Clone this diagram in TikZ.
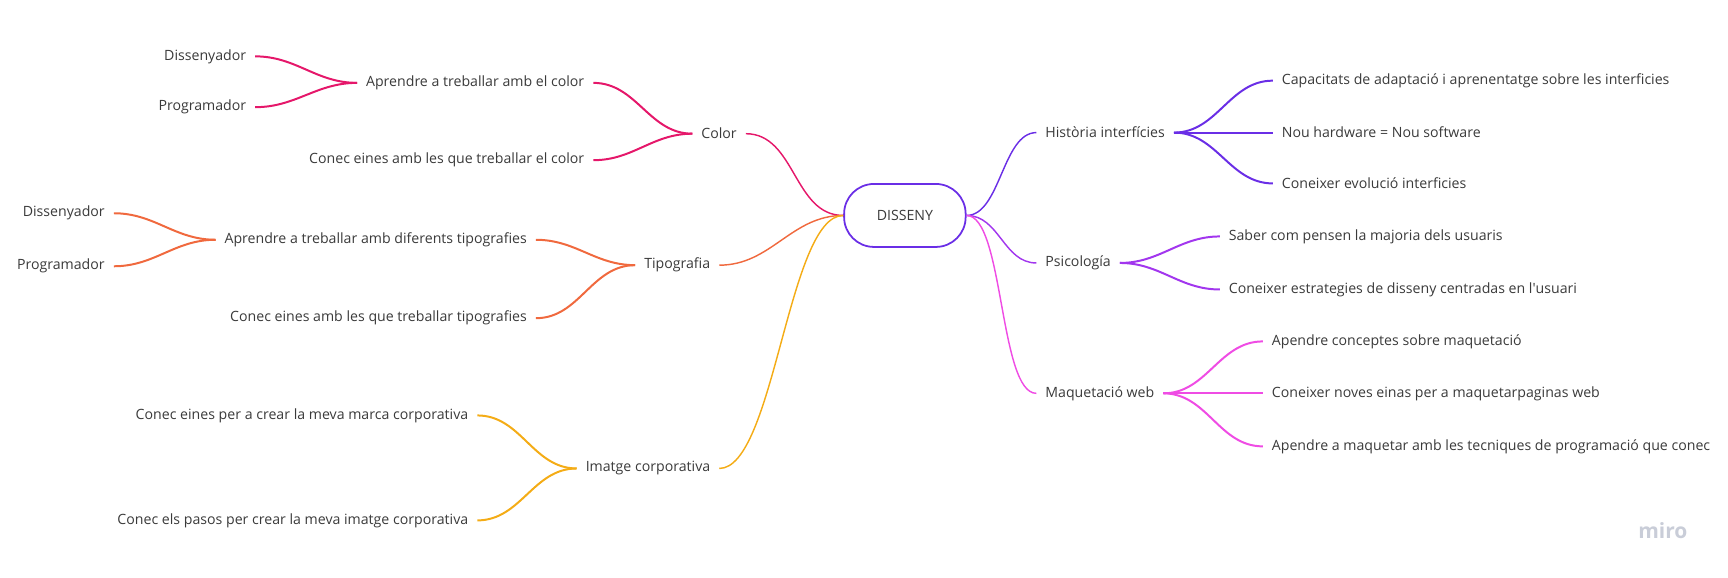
\documentclass[tikz,border=0pt]{standalone}
\usepackage{fontspec}
\setmainfont{Open Sans}
\definecolor{txtgray}{HTML}{3A3A3A}
\definecolor{colred}{HTML}{E5176A}
\definecolor{colorange}{HTML}{F0693E}
\definecolor{colyellow}{HTML}{F4AC16}
\definecolor{colpurple}{HTML}{6A2EE6}
\definecolor{colviolet}{HTML}{A236EE}
\definecolor{colpink}{HTML}{EF4CE4}
\definecolor{mirogray}{HTML}{C9CDD8}
\tikzset{
  topic/.style={text=txtgray, inner xsep=8pt, inner ysep=3pt, font=\fontsize{12.8}{15}\selectfont},
  root/.style={draw=colpurple, line width=1.6pt, rounded corners=27pt, minimum width=110pt,
    minimum height=57pt, text=txtgray, font=\fontsize{12.8}{15}\selectfont},
  lmain/.style={line width=1.3pt, out=180, in=0},
  rmain/.style={line width=1.3pt, out=0, in=180},
  lsub/.style={line width=1.8pt, out=180, in=0},
  rsub/.style={line width=1.8pt, out=0, in=180}
}
\begin{document}
\begin{tikzpicture}[x=1pt, y=-1pt]
    \useasboundingbox (0,0) rectangle (1564,523);

    % Root
    \node[root] (disseny) at (819,195) {DISSENY};

    % Color
    \node[topic, anchor=east] (color) at (675,121) {Color};
    \node[topic, anchor=east] (aprcolor) at (537,75) {Aprendre a treballar amb el color};
    \node[topic, anchor=east] (coneccolor) at (537,145) {Conec eines amb les que treballar el color};
    \node[topic, anchor=east] (dis1) at (231,51) {Dissenyador};
    \node[topic, anchor=east] (prog1) at (231,97) {Programador};
    \draw[lmain, colred] (disseny.west) to (color.east);
    \draw[lsub, colred] (color.west) to (aprcolor.east);
    \draw[lsub, colred] (color.west) to (coneccolor.east);
    \draw[lsub, colred] (aprcolor.west) to (dis1.east);
    \draw[lsub, colred] (aprcolor.west) to (prog1.east);

    % Tipografia
    \node[topic, anchor=east] (tipo) at (651,240) {Tipografia};
    \node[topic, anchor=east] (aprtipo) at (485,217) {Aprendre a treballar amb diferents tipografies};
    \node[topic, anchor=east] (conectipo) at (485,288) {Conec eines amb les que treballar tipografies};
    \node[topic, anchor=east] (dis2) at (103,193) {Dissenyador};
    \node[topic, anchor=east] (prog2) at (103,241) {Programador};
    \draw[lmain, colorange] (disseny.west) to (tipo.east);
    \draw[lsub, colorange] (tipo.west) to (aprtipo.east);
    \draw[lsub, colorange] (tipo.west) to (conectipo.east);
    \draw[lsub, colorange] (aprtipo.west) to (dis2.east);
    \draw[lsub, colorange] (aprtipo.west) to (prog2.east);

    % Imatge corporativa
    \node[topic, anchor=east] (imatge) at (651,424) {Imatge corporativa};
    \node[topic, anchor=east] (marca) at (432,376) {Conec eines per a crear la meva marca corporativa};
    \node[topic, anchor=east] (pasos) at (432,471) {Conec els pasos per crear la meva imatge corporativa};
    \draw[lmain, colyellow, looseness=0.5] (disseny.west) to (imatge.east);
    \draw[lsub, colyellow] (imatge.west) to (marca.east);
    \draw[lsub, colyellow] (imatge.west) to (pasos.east);

    % Historia interficies
    \node[topic, anchor=west] (hist) at (938,120) {Història interfícies};
    \node[topic, anchor=west] (capac) at (1152,73) {Capacitats de adaptació i aprenentatge sobre les interficies};
    \node[topic, anchor=west] (nouhw) at (1152,120) {Nou hardware = Nou software};
    \node[topic, anchor=west] (evol) at (1152,166) {Coneixer evolució interficies};
    \draw[rmain, colpurple, looseness=0.8] (disseny.east) to (hist.west);
    \draw[rsub, colpurple] (hist.east) to (capac.west);
    \draw[rsub, colpurple] (hist.east) to (nouhw.west);
    \draw[rsub, colpurple] (hist.east) to (evol.west);

    % Psicologia
    \node[topic, anchor=west] (psico) at (938,238) {Psicología};
    \node[topic, anchor=west] (saber) at (1104,214) {Saber com pensen la majoria dels usuaris};
    \node[topic, anchor=west] (estrat) at (1104,262) {Coneixer estrategies de disseny centradas en l\textquotesingle usuari};
    \draw[rmain, colviolet] (disseny.east) to (psico.west);
    \draw[rsub, colviolet] (psico.east) to (saber.west);
    \draw[rsub, colviolet] (psico.east) to (estrat.west);

    % Maquetacio web
    \node[topic, anchor=west] (maq) at (938,356) {Maquetació web};
    \node[topic, anchor=west] (concep) at (1143,309) {Apendre conceptes sobre maquetació};
    \node[topic, anchor=west] (noves) at (1143,356) {Coneixer noves einas per a maquetarpaginas web};
    \node[topic, anchor=west] (tecn) at (1143,404) {Apendre a maquetar amb les tecniques de programació que conec};
    \draw[rmain, colpink, looseness=0.5] (disseny.east) to (maq.west);
    \draw[rsub, colpink] (maq.east) to (concep.west);
    \draw[rsub, colpink] (maq.east) to (noves.west);
    \draw[rsub, colpink] (maq.east) to (tecn.west);

    % Watermark
    \node[text=mirogray, font=\fontsize{19}{22}\bfseries\selectfont] (miro) at (1505,480) {miro};
\end{tikzpicture}
\end{document}
